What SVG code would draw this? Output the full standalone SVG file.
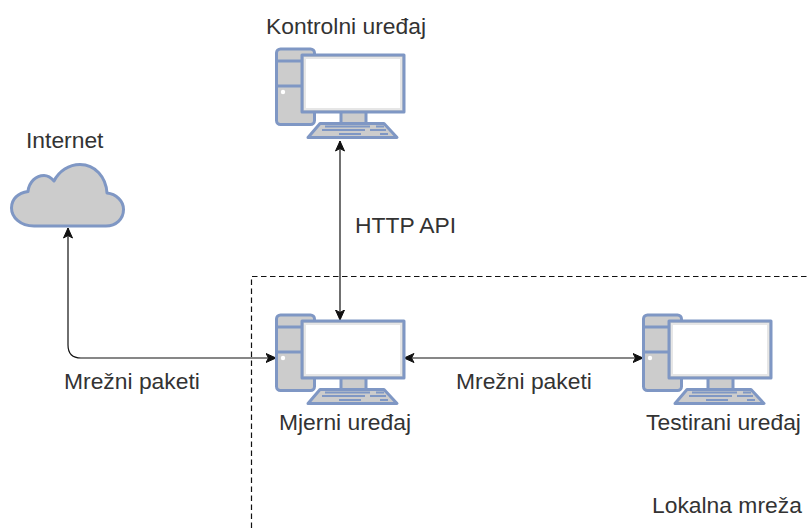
<svg xmlns="http://www.w3.org/2000/svg" width="809" height="528" viewBox="0 0 809 528">
<style>
text{font-family:"Liberation Sans",Arial,sans-serif;font-size:22.85px;fill:#333}
.s{fill:#ccc;stroke:#7f97c4;stroke-width:3;stroke-linejoin:round}
.w{fill:#fff;stroke:#e6e6e6;stroke-width:2}
.l{fill:none;stroke:#7f97c4;stroke-width:3}
.k{fill:none;stroke:#7f97c4;stroke-width:2}
.c{fill:none;stroke:#111;stroke-width:1.2;marker-start:url(#a);marker-end:url(#a)}
</style>
<defs>
<marker id="a" markerUnits="userSpaceOnUse" markerWidth="12" markerHeight="12" refX="10.5" refY="6" orient="auto-start-reverse">
<path d="M0.5 1.5L10.5 6L0.5 10.5L3 6Z" fill="#111" stroke="#111" stroke-width="1"/>
</marker>
<g id="pc">
<rect class="s" x="276.500" y="49" width="38" height="75.500" rx="4"/>
<path class="l" d="M277 61H304M277 86H304"/>
<circle cx="283" cy="92" r="2.200" fill="#fff"/>
<rect class="s" x="341" y="111" width="25" height="13"/>
<path class="s" d="M320 123.500H384L397 137.500H308Z"/>
<path class="k" d="M325 126.500H370M376 126.500H384M322 130H365M370 130H386M339 134H361M380 134H388"/>
<rect class="s" x="302" y="55" width="102" height="57"/>
<rect class="w" x="305" y="58" width="96" height="51"/>
</g>
</defs>
<rect width="809" height="528" fill="#fff"/>
<g id="region"><path d="M251.500 528V276.500H809" fill="none" stroke="#111" stroke-width="1.200" stroke-dasharray="5.500 3.500"/></g>
<g id="connectors">
<path class="c" d="M340 141V320"/>
<path class="c" d="M68 228V345Q68 358 81 358H276"/>
<path class="c" d="M404 358H643"/>
</g>
<g id="kontrolni"><use href="#pc"/><text x="266" y="34">Kontrolni uređaj</text></g>
<g id="internet">
<path class="s" d="M34 226C20 226 11.500 217 11.500 208C11.500 199 18 193 28 191.500C29 182 36 175.500 44 175.500C48 175.500 51 177.500 54 181C59 171 69 164.500 80 164.500C95 164.500 106 177 107 193C116 194 123.500 201 123.500 209.500C123.500 219 116 226 106 226Z"/>
<text x="26" y="148">Internet</text>
</g>
<g id="mjerni"><use href="#pc" y="266"/><text x="279" y="430">Mjerni uređaj</text></g>
<g id="testirani"><use href="#pc" x="367" y="266"/><text x="646" y="430">Testirani uređaj</text></g>
<g id="labels">
<text x="355" y="233">HTTP API</text>
<text x="64" y="389">Mrežni paketi</text>
<text x="456" y="389">Mrežni paketi</text>
<text x="652" y="513">Lokalna mreža</text>
</g>
</svg>
